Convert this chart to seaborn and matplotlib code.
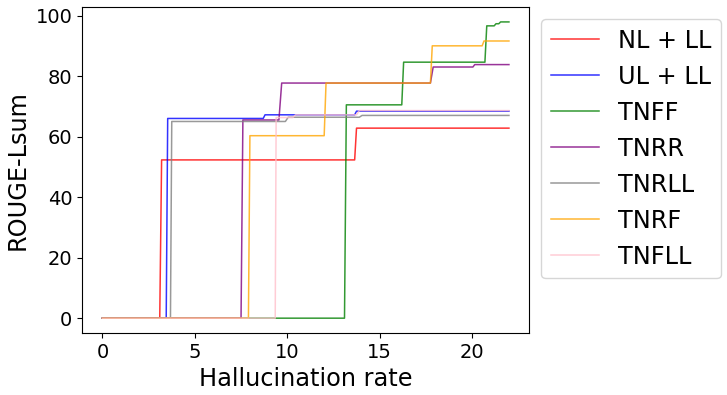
import numpy as np
import pandas as pd
import matplotlib
matplotlib.use('agg')
import matplotlib.pyplot as plt
import seaborn as sns

# step-like curves (x = hallucination rate, y = ROUGE-Lsum)
nl_ll_x = [0, 3.1, 3.2, 13.65, 13.75, 22]
nl_ll_y = [0, 0, 52.3, 52.3, 62.8, 62.8]

ul_ll_x = [0, 3.45, 3.53, 8.7, 8.8, 13.65, 13.75, 22]
ul_ll_y = [0, 0, 66.0, 66.0, 67.2, 67.2, 68.4, 68.4]

tnff_x = [0, 13.1, 13.2, 16.2, 16.3, 20.7, 20.8, 21.2, 21.3, 21.45, 21.55, 22]
tnff_y = [0, 0, 70.5, 70.5, 84.6, 84.6, 96.6, 96.6, 97.3, 97.3, 97.9, 97.9]

tnrr_x = [0, 7.5, 7.6, 9.55, 9.7, 17.75, 17.9, 20.05, 20.15, 22]
tnrr_y = [0, 0, 65.5, 65.5, 77.7, 77.7, 83.0, 83.0, 83.8, 83.8]

tnrll_x = [0, 3.68, 3.75, 9.9, 10.05, 13.9, 14.05, 22]
tnrll_y = [0, 0, 65.0, 65.0, 66.4, 66.4, 67.0, 67.0]

tnrf_x = [0, 7.9, 7.98, 12.0, 12.1, 17.75, 17.85, 20.55, 20.65, 22]
tnrf_y = [0, 0, 60.3, 60.3, 77.7, 77.7, 90.0, 90.0, 91.6, 91.6]

tnfll_x = [0, 9.35, 9.4, 10.3, 10.45, 13.75, 13.9, 22]
tnfll_y = [0, 0, 66.3, 66.3, 67.2, 67.2, 68.6, 68.6]

names = ["NL + LL", "UL + LL", "TNFF", "TNRR", "TNRLL", "TNRF", "TNFLL"]
colors = ["red", "blue", "green", "purple", "gray", "orange", "pink"]
xs = [nl_ll_x, ul_ll_x, tnff_x, tnrr_x, tnrll_x, tnrf_x, tnfll_x]
ys = [nl_ll_y, ul_ll_y, tnff_y, tnrr_y, tnrll_y, tnrf_y, tnfll_y]

frames = []
for name, x, y in zip(names, xs, ys):
    frames.append(pd.DataFrame({"rate": x, "rouge": y, "model": name}))
df = pd.concat(frames, ignore_index=True)

fig = plt.figure(figsize=(7.27, 3.95), dpi=100)
ax = fig.add_axes([0.113, 0.157, 0.615, 0.825])

sns.lineplot(data=df, x="rate", y="rouge", hue="model", hue_order=names,
             palette=dict(zip(names, colors)), estimator=None, sort=False,
             units="model", alpha=0.8, linewidth=1.1, ax=ax)

ax.set_xlabel("Hallucination rate", fontsize=17.3)
ax.set_ylabel("ROUGE-Lsum", fontsize=17.3)
ax.tick_params(labelsize=14)
ax.set_xticks([0, 5, 10, 15, 20])
ax.set_yticks([0, 20, 40, 60, 80, 100])

ax.legend(loc="upper left", bbox_to_anchor=(1.0, 1.0), fontsize=17.3)

fig.savefig("out.png", dpi=100)
